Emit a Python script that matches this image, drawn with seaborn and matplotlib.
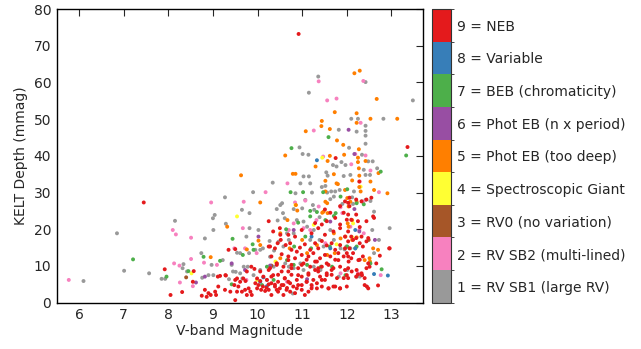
import numpy as np
import pandas as pd
import matplotlib
matplotlib.use("Agg")
import matplotlib.pyplot as plt
import seaborn as sns
from matplotlib.colors import ListedColormap, BoundaryNorm
from matplotlib.cm import ScalarMappable

# disposition labels, 1..9
labels = ["1 = RV SB1 (large RV)", "2 = RV SB2 (multi-lined)", "3 = RV0 (no variation)",
          "4 = Spectroscopic Giant", "5 = Phot EB (too deep)", "6 = Phot EB (n x period)",
          "7 = BEB (chromaticity)", "8 = Variable", "9 = NEB"]

# (V mag, KELT depth mmag), per disposition
rv_sb1 = [(6.10, 5.9), (6.85, 18.9), (7.01, 8.7), (7.57, 8.0), (7.85, 6.5), (7.93, 6.5),
          (8.15, 22.3), (8.34, 10.5), (8.32, 9.4), (8.42, 8.5), (8.74, 13.5), (8.82, 17.5),
          (8.76, 6.8), (8.90, 7.5), (9.01, 19.8), (9.00, 23.0), (9.04, 23.9), (8.97, 10.3),
          (9.01, 7.5), (9.22, 11.6), (9.27, 28.7), (9.29, 21.5), (9.36, 6.4), (9.45, 8.5),
          (9.51, 8.4), (9.54, 13.6), (9.61, 8.0), (9.65, 25.3), (9.66, 6.6), (9.81, 13.5),
          (9.82, 24.4), (9.82, 20.3), (9.75, 18.0), (9.78, 9.8), (9.90, 30.1), (9.95, 14.4),
          (10.02, 19.8), (10.06, 14.4), (10.12, 14.8), (10.21, 6.2), (10.27, 16.8), (10.34, 32.7),
          (10.37, 14.2), (10.43, 25.5), (10.45, 22.4), (10.47, 16.6), (10.51, 26.6), (10.55, 27.1),
          (10.57, 24.4), (10.61, 23.0), (10.66, 18.9), (10.79, 2.5), (10.81, 25.5), (10.85, 29.8),
          (10.94, 42.3), (10.96, 32.5), (11.00, 25.7), (11.01, 40.5), (11.03, 34.4), (11.07, 28.0),
          (11.15, 57.2), (11.14, 40.3), (11.15, 34.4), (11.18, 32.5), (11.18, 17.1), (11.22, 30.0),
          (11.24, 26.6), (11.27, 25.3), (11.36, 61.6), (11.39, 23.3), (11.44, 31.5), (11.52, 31.8),
          (11.54, 35.5), (11.56, 30.0), (11.57, 34.6), (11.63, 28.2), (11.65, 30.3), (11.69, 37.5),
          (11.71, 28.9), (11.74, 30.3), (11.77, 37.1), (11.82, 47.1), (11.84, 30.7), (11.88, 38.3),
          (11.90, 26.9), (11.93, 34.5), (11.97, 37.5), (11.95, 14.5), (12.05, 42.2), (12.08, 34.8),
          (12.10, 50.1), (12.12, 28.7), (12.14, 26.9), (12.16, 30.3), (12.22, 46.6), (12.25, 50.1),
          (12.29, 7.1), (12.34, 40.3), (12.34, 27.6), (12.38, 36.2), (12.42, 60.1), (12.42, 48.2),
          (12.42, 46.8), (12.42, 45.5), (12.42, 43.3), (12.42, 34.8), (12.42, 28.0), (12.48, 38.5),
          (12.52, 34.8), (12.53, 27.7), (12.58, 38.5), (12.57, 19.8), (12.61, 24.8), (12.68, 36.6),
          (12.72, 17.1), (12.82, 50.1), (12.96, 20.3), (13.48, 55.1), (11.63, 19.8), (11.71, 17.1),
          (11.86, 14.8), (11.99, 15.3), (12.08, 14.8), (11.48, 15.3), (11.39, 17.1), (11.26, 19.8),
          (11.11, 20.7), (11.03, 22.1), (10.88, 22.5), (10.81, 18.9), (10.70, 17.1), (10.58, 15.3),
          (10.28, 12.5), (10.36, 9.8), (10.62, 10.7), (10.70, 9.8), (10.81, 9.4), (10.96, 10.7),
          (11.03, 8.9), (11.26, 9.8), (11.41, 8.9), (11.82, 7.1), (12.01, 8.9), (12.22, 7.1),
          (12.61, 13.5), (9.91, 7.5), (10.06, 8.9), (9.69, 9.8), (9.42, 10.3), (9.61, 13.5)]

rv_sb2 = [(5.77, 6.2), (11.37, 60.3), (12.37, 60.4), (11.56, 55.1), (11.77, 55.6), (12.31, 49.0),
          (11.26, 46.9), (12.19, 40.5), (12.42, 40.1), (11.47, 39.8), (12.10, 37.7), (12.53, 36.0),
          (10.67, 32.5), (12.29, 33.0), (10.18, 30.1), (12.72, 30.1), (8.96, 27.3), (9.69, 27.5),
          (10.84, 27.3), (11.07, 27.8), (12.37, 27.5), (11.37, 26.2), (9.67, 20.3), (8.10, 19.8),
          (8.17, 18.6), (8.51, 17.7), (8.51, 11.9), (8.80, 10.9), (8.13, 10.7), (8.25, 10.1),
          (8.26, 5.5), (8.55, 4.5), (9.09, 10.3), (9.48, 14.8), (9.72, 14.8), (9.98, 13.5),
          (10.70, 19.8), (10.81, 21.6), (11.03, 20.3), (11.18, 19.8), (11.32, 22.5), (11.52, 16.2),
          (11.86, 26.0), (11.90, 24.4), (12.08, 20.7), (12.28, 19.8), (12.38, 18.9), (12.76, 7.5),
          (10.66, 5.7), (9.75, 6.2), (11.86, 8.0), (12.25, 8.0), (11.22, 4.4)]

rv0 = [(8.40, 6.9), (10.31, 10.1), (12.49, 17.1)]

giant = [(11.45, 39.5), (9.54, 23.5), (10.85, 26.6), (11.26, 21.2), (11.77, 15.9), (12.14, 21.6),
         (12.31, 31.6), (12.12, 17.8), (8.52, 8.0), (9.99, 6.2), (10.40, 11.2)]

too_deep = [(12.17, 62.5), (12.29, 63.2), (12.67, 55.5), (11.73, 51.9), (12.22, 51.6), (12.53, 50.1),
            (13.13, 50.1), (11.44, 49.5), (12.22, 49.0), (11.43, 48.1), (11.08, 46.7), (11.62, 47.3),
            (11.78, 44.2), (11.92, 43.0), (12.27, 41.8), (10.62, 40.1), (11.94, 40.3), (11.62, 40.0),
            (12.25, 39.5), (11.57, 38.6), (12.25, 38.3), (12.42, 38.6), (11.30, 37.1), (12.27, 36.6),
            (12.71, 35.3), (10.79, 35.1), (10.85, 35.1), (9.63, 34.7), (11.71, 35.0), (12.28, 34.6),
            (11.52, 33.2), (11.80, 32.3), (12.12, 33.3), (12.53, 33.0), (11.77, 32.5), (12.28, 31.5),
            (11.52, 30.3), (11.96, 30.7), (12.31, 30.3), (12.61, 30.7), (12.91, 29.8), (10.06, 27.3),
            (11.52, 27.5), (11.56, 27.1), (12.01, 28.5), (12.08, 27.5), (12.04, 26.2), (12.22, 27.5),
            (10.86, 26.6), (10.89, 25.1), (11.48, 24.8), (11.57, 24.4), (11.45, 24.5), (10.67, 22.5),
            (9.32, 20.7), (12.02, 21.6), (12.12, 22.5), (10.02, 16.9), (10.06, 15.7), (10.51, 18.9),
            (11.00, 17.1), (11.11, 13.5), (11.33, 15.7), (11.71, 18.9), (11.86, 17.5), (11.97, 18.0),
            (12.12, 17.1), (12.22, 17.8), (12.59, 14.8), (12.70, 14.4), (12.52, 11.2), (12.51, 12.1),
            (12.40, 11.6), (8.95, 12.4), (9.76, 14.5), (10.43, 10.7), (10.51, 12.1), (11.56, 13.0),
            (11.73, 13.5), (12.04, 20.7), (10.72, 14.8)]

n_period = [(12.04, 47.1), (12.17, 40.5), (12.17, 25.5), (10.02, 18.0), (9.42, 10.7), (9.72, 8.9),
            (8.82, 7.1), (8.62, 5.5), (10.81, 19.8), (11.63, 22.1), (12.28, 19.4), (12.63, 17.1),
            (11.11, 6.4), (10.28, 10.1)]

beb = [(7.21, 11.8), (7.96, 7.1), (8.45, 8.6), (8.79, 12.5), (9.16, 11.4), (9.44, 17.4),
       (9.67, 13.0), (9.89, 15.9), (9.91, 14.4), (9.42, 5.0), (10.21, 9.8), (10.64, 20.0),
       (10.74, 30.1), (10.76, 42.1), (11.02, 30.1), (11.47, 30.1), (11.59, 45.1), (11.86, 28.9),
       (12.01, 30.9), (12.22, 27.1), (12.38, 26.8), (12.76, 35.7), (13.33, 40.1), (11.18, 25.0),
       (11.33, 24.7), (11.52, 22.5), (11.71, 23.6), (10.91, 21.8), (11.07, 18.0), (10.82, 15.3),
       (11.20, 14.8), (11.62, 15.3), (12.19, 14.8), (12.01, 15.3), (10.66, 11.6), (10.81, 10.3),
       (11.11, 10.3), (11.42, 9.8), (11.67, 9.8), (11.97, 7.5), (12.22, 15.3), (12.53, 10.7),
       (12.78, 9.1), (10.10, 4.8), (10.36, 6.2), (11.18, 23.5), (11.75, 24.4)]

variable = [(11.33, 38.8), (11.21, 18.0), (12.19, 19.8), (12.61, 7.8), (12.92, 7.4), (10.06, 5.7),
            (10.21, 4.5), (10.13, 6.9), (11.63, 14.8), (12.19, 14.8)]

neb = [(10.92, 73.2), (7.45, 27.3), (13.36, 42.4), (12.96, 14.8), (12.61, 23.1), (12.28, 33.0),
       (11.75, 39.4), (10.25, 22.2), (8.05, 2.1), (7.92, 9.1), (8.31, 2.9), (8.55, 5.7),
       (9.16, 7.3), (9.28, 7.5), (10.25, 15.3), (10.45, 16.2), (10.51, 18.5),
       (9.35, 14.4), (9.50, 14.6), (9.86, 9.8), (9.76, 8.5), (8.57, 8.6), (9.11, 7.1),
       (9.29, 7.4), (9.54, 6.6), (9.61, 5.7), (9.50, 6.2), (9.68, 6.6), (9.73, 5.9),
       (9.99, 6.6), (10.06, 5.9), (10.13, 7.1), (10.21, 6.2), (10.02, 4.8), (10.12, 4.4),
       (10.20, 4.1), (9.99, 3.9), (10.08, 3.5), (10.17, 3.2), (9.72, 3.5), (9.80, 3.9),
       (9.84, 3.0), (9.76, 2.1), (8.82, 3.5), (8.90, 2.6), (8.86, 1.6), (8.95, 2.1),
       (9.05, 3.0), (9.07, 2.1), (9.12, 4.4), (8.75, 1.9), (9.50, 0.7), (9.39, 3.0),
       (9.54, 3.0), (9.27, 3.5), (9.48, 4.8), (9.57, 4.4), (9.65, 3.0), (9.87, 2.1),
       (9.95, 5.3), (10.25, 5.0), (10.25, 3.5), (10.25, 8.9), (10.06, 8.5), (9.93, 9.2),
       (10.52, 17.1), (10.63, 15.7), (10.73, 16.2), (10.76, 14.4), (10.95, 15.0), (11.06, 15.9),
       (11.29, 16.2), (11.36, 14.8), (11.55, 15.6), (11.66, 16.2), (11.74, 14.4), (11.85, 15.7),
       (11.96, 14.8), (11.44, 16.8), (11.18, 14.4), (10.88, 13.9), (10.39, 14.8), (10.28, 15.3),
       (10.31, 12.6), (10.54, 13.2), (10.69, 12.6), (10.84, 12.1), (10.99, 13.0), (11.14, 12.6),
       (11.25, 13.5), (11.40, 12.1), (11.51, 13.0), (11.63, 12.6), (11.74, 11.7), (11.93, 12.6),
       (12.00, 13.5), (11.81, 13.5), (11.33, 11.2), (11.10, 11.7),
       (10.28, 9.4), (10.43, 10.3), (10.58, 9.8), (10.76, 10.3), (10.91, 9.4), (11.03, 10.7),
       (11.18, 9.8), (11.29, 8.9), (11.44, 9.8), (11.59, 10.3), (11.70, 9.4), (11.85, 9.8),
       (11.96, 8.9), (10.69, 8.5), (11.36, 8.5),
       (10.31, 7.1), (10.46, 7.6), (10.61, 6.7), (10.76, 7.6), (10.88, 6.2), (10.99, 7.1),
       (11.14, 7.6), (11.25, 6.2), (11.40, 7.1), (11.51, 6.2), (11.66, 7.6), (11.78, 6.7),
       (11.93, 6.7), (10.69, 5.7), (11.10, 5.7), (11.55, 8.0),
       (10.39, 4.4), (10.54, 4.8), (10.65, 3.5), (10.80, 4.4), (10.91, 4.8), (10.99, 3.5),
       (11.21, 4.8), (11.33, 3.9), (11.44, 4.4), (11.59, 3.9), (11.70, 4.4), (11.85, 3.9),
       (12.00, 4.4), (10.46, 3.0), (10.73, 3.0),
       (10.31, 2.1), (10.58, 2.1), (10.84, 2.6), (11.14, 3.0), (11.06, 2.1), (10.43, 3.5),
       (12.03, 19.4), (12.10, 18.0), (12.03, 16.7), (12.14, 17.1), (12.21, 17.6), (12.33, 18.0),
       (12.29, 16.2), (12.36, 15.3), (12.44, 16.7), (12.48, 17.6), (12.06, 14.8), (12.14, 13.5),
       (12.03, 12.6), (12.10, 12.1), (12.29, 11.7), (12.36, 12.6), (12.48, 10.7), (12.51, 9.8),
       (12.44, 9.4), (12.66, 10.7), (12.74, 12.8), (12.95, 14.8), (12.25, 7.7), (12.21, 7.1),
       (12.03, 6.7), (12.40, 6.7), (12.33, 8.0), (12.40, 4.8), (12.48, 3.9), (12.70, 4.7),
       (12.03, 9.4),
       (11.51, 25.4), (11.63, 24.5), (11.74, 23.1), (11.85, 26.3), (11.96, 27.6), (11.93, 24.5),
       (12.00, 22.6), (11.85, 21.3), (11.44, 21.3), (11.29, 21.7), (11.55, 22.2),
       (12.21, 28.1), (12.33, 27.6), (12.44, 28.1), (12.55, 28.6), (12.06, 28.6), (12.03, 27.2),
       (12.06, 26.3), (12.21, 24.0), (12.25, 22.2), (12.44, 22.2), (12.59, 23.5), (12.03, 24.0),
       (12.10, 22.6), (12.29, 20.6),
       (10.35, 19.4), (10.50, 20.3), (10.69, 18.5), (10.99, 19.8), (11.21, 18.9), (11.36, 20.3),
       (11.51, 18.5), (11.70, 19.4), (11.85, 20.3), (11.96, 18.0), (10.84, 18.0),
       (10.39, 4.9), (10.50, 3.9), (10.58, 4.8), (10.66, 4.0), (10.31, 5.3), (10.46, 5.7),
       (10.61, 6.6), (10.73, 5.3), (10.88, 3.9), (10.99, 4.8), (11.10, 5.7), (11.21, 3.9),
       (11.33, 5.3), (11.44, 6.2), (11.59, 3.9), (11.74, 4.4), (11.85, 3.9), (12.00, 7.5),
       (12.11, 8.5), (12.26, 11.6), (12.34, 7.5), (12.45, 4.4), (12.22, 8.9), (11.55, 7.5),
       (11.66, 8.9), (11.36, 9.4), (11.14, 8.0), (10.91, 7.5), (10.76, 9.4), (10.54, 8.5),
       (10.35, 7.5), (10.99, 10.3), (11.29, 11.2), (11.55, 10.7), (11.81, 11.6), (12.04, 11.2),
       (10.69, 11.6), (10.43, 10.7)]

groups = [rv_sb1, rv_sb2, rv0, giant, too_deep, n_period, beb, variable, neb]

rows = []
for code, pts in enumerate(groups, start=1):
    for mag, depth in pts:
        rows.append({"vmag": mag, "depth": depth, "disp": code})
df = pd.DataFrame(rows)

colors = sns.color_palette("Set1", 9)[::-1]  # gray ... red
pal = {i + 1: colors[i] for i in range(9)}

sns.set_style("white")
plt.rcParams["font.family"] = ["DejaVu Sans"]

fig = plt.figure(figsize=(6.41, 3.49), dpi=100)
ax = fig.add_axes([0.0885, 0.1327, 0.5709, 0.8415])
sns.scatterplot(data=df, x="vmag", y="depth", hue="disp", palette=pal, s=8,
                linewidth=0, edgecolor="none", legend=False, ax=ax)
ax.set_xlim(5.5, 13.7)
ax.set_ylim(0, 80)
ax.set_xticks(range(6, 14))
ax.set_yticks(range(0, 81, 10))
ax.set_xlabel("V-band Magnitude", fontsize=10, labelpad=1)
ax.set_ylabel("KELT Depth (mmag)", fontsize=10, labelpad=4)
ax.tick_params(direction="in", top=True, right=True, length=5, width=0.8, labelsize=10, pad=4)
for sp in ax.spines.values():
    sp.set_visible(True)
    sp.set_color("black")
    sp.set_linewidth(1.0)

# discrete colour key
cax = fig.add_axes([0.674, 0.1327, 0.0296, 0.8415])
cmap = ListedColormap(colors)
norm = BoundaryNorm(np.arange(0.5, 10.5, 1), cmap.N)
sm = ScalarMappable(norm=norm, cmap=cmap)
cb = fig.colorbar(sm, cax=cax, ticks=range(1, 10))
cb.ax.set_yticklabels(labels, fontsize=10)
cb.ax.tick_params(direction="in", left=True, right=True, length=5, width=0.8, color="#333333", pad=4)
cb.outline.set_linewidth(0.8)
cb.outline.set_edgecolor("#333333")

fig.savefig("out.png", dpi=100)
